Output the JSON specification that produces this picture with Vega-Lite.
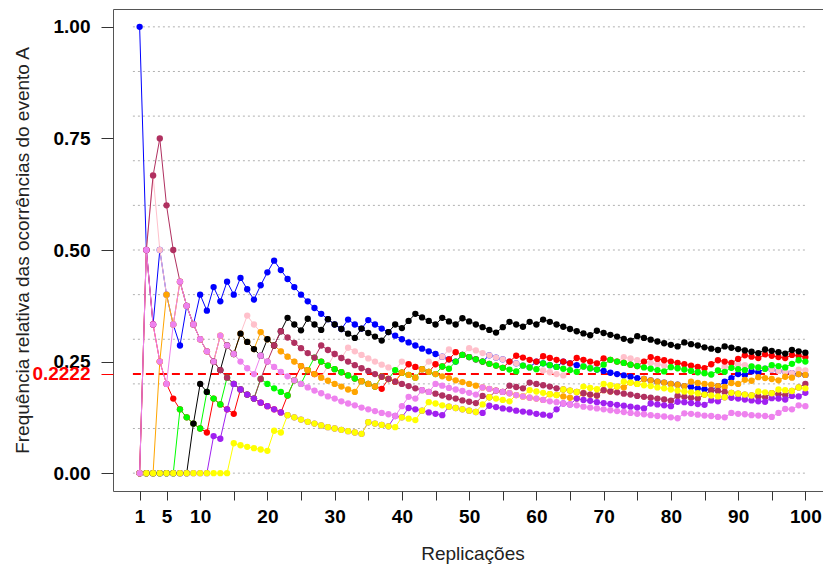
{
"$schema":"https://vega.github.io/schema/vega-lite/v6.json",
"width":719,"height":482,
"autosize":{"type":"none"},
"padding":{"left":113,"top":9,"right":0,"bottom":78},
"background":"white",
"config":{"view":{"stroke":"#555555","strokeWidth":1},"font":"Liberation Sans","axis":{"domain":false,"grid":false,"labelOverlap":false}},
"datasets":{
"grid":[{"gy":0,"gx0":0,"gx1":100},{"gy":0.1,"gx0":0,"gx1":100},{"gy":0.2,"gx0":0,"gx1":100},{"gy":0.3,"gx0":0,"gx1":100},{"gy":0.4,"gx0":0,"gx1":100},{"gy":0.5,"gx0":0,"gx1":100},{"gy":0.6,"gx0":0,"gx1":100},{"gy":0.7,"gx0":0,"gx1":100},{"gy":0.8,"gx0":0,"gx1":100},{"gy":0.9,"gx0":0,"gx1":100},{"gy":1,"gx0":0,"gx1":100}],
"ref":[{"ry":0.2222,"rx0":0,"rx1":100}],
"freq":[
{"n":1,"b":1,"p":0,"r":0,"g":0,"o":0,"k":0,"m":0,"u":0,"y":0,"v":0},
{"n":2,"b":0.5,"p":0.5,"r":0.5,"g":0,"o":0,"k":0,"m":0.5,"u":0,"y":0,"v":0.5},
{"n":3,"b":0.333,"p":0.667,"r":0.333,"g":0,"o":0,"k":0,"m":0.667,"u":0,"y":0,"v":0.333},
{"n":4,"b":0.5,"p":0.5,"r":0.25,"g":0,"o":0.25,"k":0,"m":0.75,"u":0,"y":0,"v":0.25},
{"n":5,"b":0.4,"p":0.4,"r":0.2,"g":0,"o":0.4,"k":0,"m":0.6,"u":0,"y":0,"v":0.2},
{"n":6,"b":0.333,"p":0.333,"r":0.167,"g":0,"o":0.333,"k":0,"m":0.5,"u":0,"y":0,"v":0.333},
{"n":7,"b":0.286,"p":0.429,"r":0.143,"g":0.143,"o":0.429,"k":0,"m":0.429,"u":0,"y":0,"v":0.429},
{"n":8,"b":0.375,"p":0.375,"r":0.125,"g":0.125,"o":0.375,"k":0,"m":0.375,"u":0,"y":0,"v":0.375},
{"n":9,"b":0.333,"p":0.333,"r":0.111,"g":0.111,"o":0.333,"k":0.111,"m":0.333,"u":0,"y":0,"v":0.333},
{"n":10,"b":0.4,"p":0.3,"r":0.1,"g":0.1,"o":0.3,"k":0.2,"m":0.3,"u":0,"y":0,"v":0.3},
{"n":11,"b":0.364,"p":0.273,"r":0.091,"g":0.182,"o":0.273,"k":0.182,"m":0.273,"u":0,"y":0,"v":0.273},
{"n":12,"b":0.417,"p":0.25,"r":0.167,"g":0.167,"o":0.25,"k":0.25,"m":0.25,"u":0.083,"y":0,"v":0.25},
{"n":13,"b":0.385,"p":0.308,"r":0.154,"g":0.154,"o":0.308,"k":0.231,"m":0.231,"u":0.077,"y":0,"v":0.308},
{"n":14,"b":0.429,"p":0.286,"r":0.143,"g":0.214,"o":0.286,"k":0.286,"m":0.214,"u":0.143,"y":0,"v":0.286},
{"n":15,"b":0.4,"p":0.267,"r":0.133,"g":0.2,"o":0.267,"k":0.267,"m":0.2,"u":0.2,"y":0.067,"v":0.267},
{"n":16,"b":0.4375,"p":0.3125,"r":0.1875,"g":0.1875,"o":0.3125,"k":0.3125,"m":0.1875,"u":0.1875,"y":0.0625,"v":0.25},
{"n":17,"b":0.412,"p":0.353,"r":0.176,"g":0.176,"o":0.294,"k":0.294,"m":0.176,"u":0.176,"y":0.059,"v":0.235},
{"n":18,"b":0.389,"p":0.333,"r":0.167,"g":0.167,"o":0.278,"k":0.278,"m":0.167,"u":0.167,"y":0.056,"v":0.222},
{"n":19,"b":0.421,"p":0.316,"r":0.158,"g":0.211,"o":0.316,"k":0.263,"m":0.211,"u":0.158,"y":0.053,"v":0.263},
{"n":20,"b":0.45,"p":0.3,"r":0.15,"g":0.2,"o":0.3,"k":0.3,"m":0.25,"u":0.15,"y":0.05,"v":0.25},
{"n":21,"b":0.476,"p":0.286,"r":0.143,"g":0.19,"o":0.286,"k":0.286,"m":0.286,"u":0.143,"y":0.095,"v":0.238},
{"n":22,"b":0.455,"p":0.273,"r":0.136,"g":0.182,"o":0.273,"k":0.318,"m":0.318,"u":0.136,"y":0.091,"v":0.227},
{"n":23,"b":0.435,"p":0.261,"r":0.174,"g":0.174,"o":0.261,"k":0.348,"m":0.304,"u":0.13,"y":0.13,"v":0.217},
{"n":24,"b":0.417,"p":0.25,"r":0.208,"g":0.208,"o":0.25,"k":0.333,"m":0.292,"u":0.125,"y":0.125,"v":0.208},
{"n":25,"b":0.4,"p":0.24,"r":0.24,"g":0.2,"o":0.24,"k":0.32,"m":0.28,"u":0.12,"y":0.12,"v":0.2},
{"n":26,"b":0.385,"p":0.231,"r":0.231,"g":0.231,"o":0.231,"k":0.346,"m":0.269,"u":0.115,"y":0.115,"v":0.192},
{"n":27,"b":0.37,"p":0.222,"r":0.222,"g":0.259,"o":0.222,"k":0.333,"m":0.259,"u":0.111,"y":0.111,"v":0.185},
{"n":28,"b":0.357,"p":0.214,"r":0.25,"g":0.25,"o":0.214,"k":0.321,"m":0.286,"u":0.107,"y":0.107,"v":0.179},
{"n":29,"b":0.345,"p":0.241,"r":0.241,"g":0.241,"o":0.207,"k":0.345,"m":0.276,"u":0.103,"y":0.103,"v":0.172},
{"n":30,"b":0.333,"p":0.267,"r":0.233,"g":0.233,"o":0.2,"k":0.333,"m":0.267,"u":0.1,"y":0.1,"v":0.167},
{"n":31,"b":0.323,"p":0.258,"r":0.226,"g":0.226,"o":0.194,"k":0.323,"m":0.258,"u":0.097,"y":0.097,"v":0.161},
{"n":32,"b":0.344,"p":0.281,"r":0.219,"g":0.219,"o":0.1875,"k":0.3125,"m":0.25,"u":0.094,"y":0.094,"v":0.156},
{"n":33,"b":0.333,"p":0.273,"r":0.212,"g":0.212,"o":0.182,"k":0.303,"m":0.242,"u":0.091,"y":0.091,"v":0.152},
{"n":34,"b":0.324,"p":0.265,"r":0.206,"g":0.206,"o":0.206,"k":0.324,"m":0.235,"u":0.088,"y":0.088,"v":0.147},
{"n":35,"b":0.343,"p":0.257,"r":0.2,"g":0.2,"o":0.2,"k":0.314,"m":0.229,"u":0.114,"y":0.114,"v":0.143},
{"n":36,"b":0.333,"p":0.25,"r":0.194,"g":0.194,"o":0.194,"k":0.306,"m":0.222,"u":0.111,"y":0.111,"v":0.139},
{"n":37,"b":0.324,"p":0.243,"r":0.189,"g":0.216,"o":0.216,"k":0.297,"m":0.216,"u":0.108,"y":0.108,"v":0.135},
{"n":38,"b":0.316,"p":0.237,"r":0.211,"g":0.211,"o":0.211,"k":0.316,"m":0.211,"u":0.105,"y":0.105,"v":0.132},
{"n":39,"b":0.308,"p":0.231,"r":0.205,"g":0.231,"o":0.205,"k":0.333,"m":0.205,"u":0.128,"y":0.103,"v":0.128},
{"n":40,"b":0.3,"p":0.25,"r":0.225,"g":0.225,"o":0.225,"k":0.325,"m":0.2,"u":0.125,"y":0.125,"v":0.15},
{"n":41,"b":0.293,"p":0.244,"r":0.244,"g":0.22,"o":0.22,"k":0.341,"m":0.195,"u":0.146,"y":0.122,"v":0.171},
{"n":42,"b":0.286,"p":0.238,"r":0.238,"g":0.214,"o":0.214,"k":0.357,"m":0.19,"u":0.143,"y":0.119,"v":0.167},
{"n":43,"b":0.279,"p":0.233,"r":0.233,"g":0.233,"o":0.233,"k":0.349,"m":0.186,"u":0.14,"y":0.14,"v":0.186},
{"n":44,"b":0.273,"p":0.25,"r":0.227,"g":0.227,"o":0.227,"k":0.341,"m":0.182,"u":0.136,"y":0.159,"v":0.182},
{"n":45,"b":0.267,"p":0.244,"r":0.244,"g":0.222,"o":0.222,"k":0.333,"m":0.178,"u":0.133,"y":0.156,"v":0.2},
{"n":46,"b":0.261,"p":0.261,"r":0.239,"g":0.239,"o":0.217,"k":0.348,"m":0.174,"u":0.13,"y":0.152,"v":0.196},
{"n":47,"b":0.255,"p":0.277,"r":0.255,"g":0.234,"o":0.213,"k":0.34,"m":0.17,"u":0.149,"y":0.149,"v":0.191},
{"n":48,"b":0.25,"p":0.271,"r":0.271,"g":0.25,"o":0.208,"k":0.333,"m":0.167,"u":0.146,"y":0.146,"v":0.1875},
{"n":49,"b":0.265,"p":0.265,"r":0.265,"g":0.265,"o":0.204,"k":0.347,"m":0.163,"u":0.143,"y":0.143,"v":0.184},
{"n":50,"b":0.26,"p":0.28,"r":0.26,"g":0.26,"o":0.2,"k":0.34,"m":0.16,"u":0.14,"y":0.14,"v":0.18},
{"n":51,"b":0.255,"p":0.275,"r":0.255,"g":0.255,"o":0.196,"k":0.333,"m":0.157,"u":0.137,"y":0.137,"v":0.176},
{"n":52,"b":0.25,"p":0.269,"r":0.25,"g":0.25,"o":0.192,"k":0.327,"m":0.173,"u":0.135,"y":0.154,"v":0.192},
{"n":53,"b":0.264,"p":0.264,"r":0.245,"g":0.245,"o":0.189,"k":0.321,"m":0.17,"u":0.151,"y":0.17,"v":0.189},
{"n":54,"b":0.259,"p":0.259,"r":0.241,"g":0.241,"o":0.185,"k":0.315,"m":0.185,"u":0.148,"y":0.167,"v":0.185},
{"n":55,"b":0.255,"p":0.255,"r":0.236,"g":0.236,"o":0.182,"k":0.327,"m":0.182,"u":0.145,"y":0.164,"v":0.182},
{"n":56,"b":0.25,"p":0.25,"r":0.25,"g":0.232,"o":0.179,"k":0.339,"m":0.196,"u":0.143,"y":0.161,"v":0.179},
{"n":57,"b":0.246,"p":0.246,"r":0.263,"g":0.228,"o":0.175,"k":0.333,"m":0.193,"u":0.14,"y":0.175,"v":0.175},
{"n":58,"b":0.241,"p":0.241,"r":0.259,"g":0.241,"o":0.172,"k":0.328,"m":0.19,"u":0.138,"y":0.172,"v":0.172},
{"n":59,"b":0.237,"p":0.237,"r":0.254,"g":0.237,"o":0.169,"k":0.339,"m":0.203,"u":0.136,"y":0.186,"v":0.169},
{"n":60,"b":0.25,"p":0.233,"r":0.25,"g":0.233,"o":0.167,"k":0.333,"m":0.2,"u":0.133,"y":0.183,"v":0.167},
{"n":61,"b":0.246,"p":0.23,"r":0.262,"g":0.246,"o":0.164,"k":0.344,"m":0.197,"u":0.131,"y":0.18,"v":0.164},
{"n":62,"b":0.242,"p":0.226,"r":0.258,"g":0.242,"o":0.177,"k":0.339,"m":0.194,"u":0.129,"y":0.177,"v":0.161},
{"n":63,"b":0.238,"p":0.222,"r":0.254,"g":0.238,"o":0.175,"k":0.333,"m":0.19,"u":0.143,"y":0.175,"v":0.159},
{"n":64,"b":0.25,"p":0.219,"r":0.25,"g":0.234,"o":0.172,"k":0.328,"m":0.1875,"u":0.156,"y":0.1875,"v":0.156},
{"n":65,"b":0.246,"p":0.231,"r":0.246,"g":0.231,"o":0.169,"k":0.323,"m":0.185,"u":0.154,"y":0.185,"v":0.154},
{"n":66,"b":0.242,"p":0.227,"r":0.258,"g":0.227,"o":0.167,"k":0.318,"m":0.182,"u":0.167,"y":0.182,"v":0.152},
{"n":67,"b":0.239,"p":0.239,"r":0.254,"g":0.239,"o":0.179,"k":0.313,"m":0.179,"u":0.164,"y":0.194,"v":0.149},
{"n":68,"b":0.235,"p":0.235,"r":0.25,"g":0.235,"o":0.176,"k":0.309,"m":0.176,"u":0.162,"y":0.191,"v":0.147},
{"n":69,"b":0.232,"p":0.246,"r":0.246,"g":0.232,"o":0.174,"k":0.319,"m":0.174,"u":0.159,"y":0.188,"v":0.145},
{"n":70,"b":0.229,"p":0.243,"r":0.257,"g":0.243,"o":0.186,"k":0.314,"m":0.186,"u":0.157,"y":0.2,"v":0.143},
{"n":71,"b":0.225,"p":0.254,"r":0.254,"g":0.254,"o":0.183,"k":0.31,"m":0.183,"u":0.155,"y":0.197,"v":0.141},
{"n":72,"b":0.222,"p":0.25,"r":0.25,"g":0.25,"o":0.194,"k":0.306,"m":0.181,"u":0.153,"y":0.194,"v":0.139},
{"n":73,"b":0.219,"p":0.26,"r":0.247,"g":0.247,"o":0.192,"k":0.301,"m":0.178,"u":0.151,"y":0.205,"v":0.137},
{"n":74,"b":0.216,"p":0.257,"r":0.243,"g":0.243,"o":0.203,"k":0.297,"m":0.176,"u":0.149,"y":0.203,"v":0.135},
{"n":75,"b":0.213,"p":0.253,"r":0.24,"g":0.24,"o":0.2,"k":0.307,"m":0.173,"u":0.147,"y":0.2,"v":0.133},
{"n":76,"b":0.211,"p":0.25,"r":0.25,"g":0.237,"o":0.211,"k":0.303,"m":0.171,"u":0.145,"y":0.197,"v":0.132},
{"n":77,"b":0.208,"p":0.247,"r":0.26,"g":0.234,"o":0.208,"k":0.299,"m":0.169,"u":0.156,"y":0.195,"v":0.13},
{"n":78,"b":0.205,"p":0.244,"r":0.256,"g":0.231,"o":0.205,"k":0.295,"m":0.167,"u":0.154,"y":0.192,"v":0.128},
{"n":79,"b":0.203,"p":0.241,"r":0.253,"g":0.228,"o":0.203,"k":0.291,"m":0.165,"u":0.152,"y":0.19,"v":0.127},
{"n":80,"b":0.2,"p":0.2375,"r":0.25,"g":0.2375,"o":0.2,"k":0.2875,"m":0.1625,"u":0.15,"y":0.1875,"v":0.125},
{"n":81,"b":0.198,"p":0.235,"r":0.247,"g":0.235,"o":0.198,"k":0.284,"m":0.173,"u":0.16,"y":0.185,"v":0.123},
{"n":82,"b":0.195,"p":0.232,"r":0.244,"g":0.232,"o":0.195,"k":0.293,"m":0.171,"u":0.159,"y":0.183,"v":0.134},
{"n":83,"b":0.193,"p":0.229,"r":0.241,"g":0.229,"o":0.205,"k":0.289,"m":0.169,"u":0.157,"y":0.181,"v":0.133},
{"n":84,"b":0.19,"p":0.226,"r":0.238,"g":0.226,"o":0.202,"k":0.286,"m":0.167,"u":0.155,"y":0.179,"v":0.131},
{"n":85,"b":0.188,"p":0.224,"r":0.235,"g":0.224,"o":0.2,"k":0.282,"m":0.176,"u":0.153,"y":0.176,"v":0.129},
{"n":86,"b":0.186,"p":0.221,"r":0.244,"g":0.221,"o":0.198,"k":0.279,"m":0.186,"u":0.163,"y":0.174,"v":0.128},
{"n":87,"b":0.195,"p":0.23,"r":0.253,"g":0.23,"o":0.195,"k":0.276,"m":0.184,"u":0.161,"y":0.172,"v":0.126},
{"n":88,"b":0.205,"p":0.239,"r":0.25,"g":0.227,"o":0.193,"k":0.284,"m":0.182,"u":0.17,"y":0.17,"v":0.125},
{"n":89,"b":0.213,"p":0.236,"r":0.247,"g":0.236,"o":0.202,"k":0.281,"m":0.18,"u":0.169,"y":0.18,"v":0.135},
{"n":90,"b":0.222,"p":0.244,"r":0.256,"g":0.233,"o":0.2,"k":0.278,"m":0.178,"u":0.167,"y":0.178,"v":0.133},
{"n":91,"b":0.22,"p":0.242,"r":0.264,"g":0.231,"o":0.209,"k":0.275,"m":0.176,"u":0.165,"y":0.176,"v":0.132},
{"n":92,"b":0.228,"p":0.239,"r":0.261,"g":0.239,"o":0.207,"k":0.272,"m":0.174,"u":0.163,"y":0.174,"v":0.13},
{"n":93,"b":0.226,"p":0.237,"r":0.258,"g":0.237,"o":0.215,"k":0.269,"m":0.172,"u":0.161,"y":0.183,"v":0.129},
{"n":94,"b":0.234,"p":0.234,"r":0.266,"g":0.234,"o":0.213,"k":0.277,"m":0.17,"u":0.16,"y":0.181,"v":0.128},
{"n":95,"b":0.232,"p":0.232,"r":0.263,"g":0.242,"o":0.211,"k":0.274,"m":0.179,"u":0.168,"y":0.179,"v":0.126},
{"n":96,"b":0.229,"p":0.229,"r":0.26,"g":0.24,"o":0.208,"k":0.271,"m":0.177,"u":0.167,"y":0.1875,"v":0.135},
{"n":97,"b":0.227,"p":0.227,"r":0.258,"g":0.237,"o":0.216,"k":0.268,"m":0.175,"u":0.165,"y":0.186,"v":0.144},
{"n":98,"b":0.224,"p":0.224,"r":0.265,"g":0.245,"o":0.214,"k":0.276,"m":0.184,"u":0.173,"y":0.184,"v":0.143},
{"n":99,"b":0.222,"p":0.232,"r":0.263,"g":0.253,"o":0.222,"k":0.273,"m":0.192,"u":0.172,"y":0.192,"v":0.152},
{"n":100,"b":0.22,"p":0.23,"r":0.26,"g":0.25,"o":0.22,"k":0.27,"m":0.2,"u":0.18,"y":0.19,"v":0.15}
]},
"layer":[
{"data":{"name":"grid"},
 "mark":{"type":"rule","stroke":"#b0b0b0","strokeWidth":1,"strokeDash":[2,3]},
 "encoding":{
  "x":{"field":"gx0","type":"quantitative","scale":{"domain":[-2.96,103.96],"nice":false,"zero":false},
   "axis":{"orient":"bottom","values":[15,25,35,45,55,65,75,85,95],"labels":false,"tickSize":9,"tickColor":"#333333","domain":false,"grid":false,"title":null}},
  "x2":{"field":"gx1"},
  "y":{"field":"gy","type":"quantitative","scale":{"domain":[-0.04,1.04],"nice":false,"zero":false},"axis":null}}},
{"data":{"name":"ref"},
 "mark":{"type":"rule","stroke":"#FF0000","strokeWidth":2,"strokeDash":[8,5]},
 "encoding":{
  "x":{"field":"rx0","type":"quantitative","scale":{"domain":[-2.96,103.96],"nice":false,"zero":false},"axis":null},
  "x2":{"field":"rx1"},
  "y":{"field":"ry","type":"quantitative","scale":{"domain":[-0.04,1.04],"nice":false,"zero":false},
   "axis":{"orient":"left","values":[0.2222],"format":".4f","labelFontSize":19,"labelFontWeight":"bold","labelColor":"#FF0000",
    "tickColor":"#FF0000","tickSize":12,"labelPadding":11,"domain":false,"grid":false,"title":null,"labelFlush":false,"labelBound":false,"zindex":1}}}},
{"data":{"name":"freq"},
 "transform":[{"fold":["b","p","r","g","o","k","m","u","y","v"],"as":["s","f"]}],
 "mark":{"type":"line","strokeWidth":1},
 "encoding":{
  "x":{"field":"n","type":"quantitative","scale":{"domain":[-2.96,103.96],"nice":false,"zero":false},"axis":null},
  "y":{"field":"f","type":"quantitative","scale":{"domain":[-0.04,1.04],"nice":false,"zero":false},"axis":null},
  "color":{"field":"s","type":"nominal","scale":{"domain":["b","p","r","g","o","k","m","u","y","v"],"range":["#0000FF","#FFC0CB","#FF0000","#00FF00","#FFA500","#000000","#B03060","#A020F0","#FFFF00","#EE82EE"]},"legend":null}}},
{"data":{"name":"freq"},
 "transform":[{"fold":["b","p","r","g","o","k","m","u","y","v"],"as":["s","f"]}],
 "mark":{"type":"point","filled":true,"opacity":1,"size":40,"strokeWidth":0},
 "encoding":{
  "x":{"field":"n","type":"quantitative","scale":{"domain":[-2.96,103.96],"nice":false,"zero":false},
   "axis":{"orient":"bottom","values":[1,5,10,20,30,40,50,60,70,80,90,100],
    "labelFontSize":19,"labelFontWeight":"bold","labelColor":"#000000","labelOverlap":false,"labelFlush":false,"labelBound":false,"labelSeparation":0,
    "tickSize":9,"tickColor":"#333333","labelPadding":7,"domain":false,"grid":false,
    "title":"Replicações","titleFontSize":19,"titleFontWeight":"normal","titleColor":"#222222","titleY":62,"titleBaseline":"middle"}},
  "y":{"field":"f","type":"quantitative","scale":{"domain":[-0.04,1.04],"nice":false,"zero":false},
   "axis":{"orient":"left","values":[0,0.25,0.5,0.75,1],"format":".2f","labelFontSize":19,"labelFontWeight":"bold","labelColor":"#000000",
    "tickColor":"#333333","tickSize":12,"labelPadding":11,"domain":false,"grid":false,"labelFlush":false,"labelBound":false,
    "title":"Frequência relativa das ocorrências do evento A","titleFontSize":19,"titleFontWeight":"normal","titleColor":"#222222",
    "titleX":-91,"titleY":241,"titleAngle":270,"titleBaseline":"middle","titleAlign":"center"}},
  "color":{"field":"s","type":"nominal","scale":{"domain":["b","p","r","g","o","k","m","u","y","v"],"range":["#0000FF","#FFC0CB","#FF0000","#00FF00","#FFA500","#000000","#B03060","#A020F0","#FFFF00","#EE82EE"]},"legend":null}}}
],
"resolve":{"axis":{"x":"independent","y":"independent"}}
}
